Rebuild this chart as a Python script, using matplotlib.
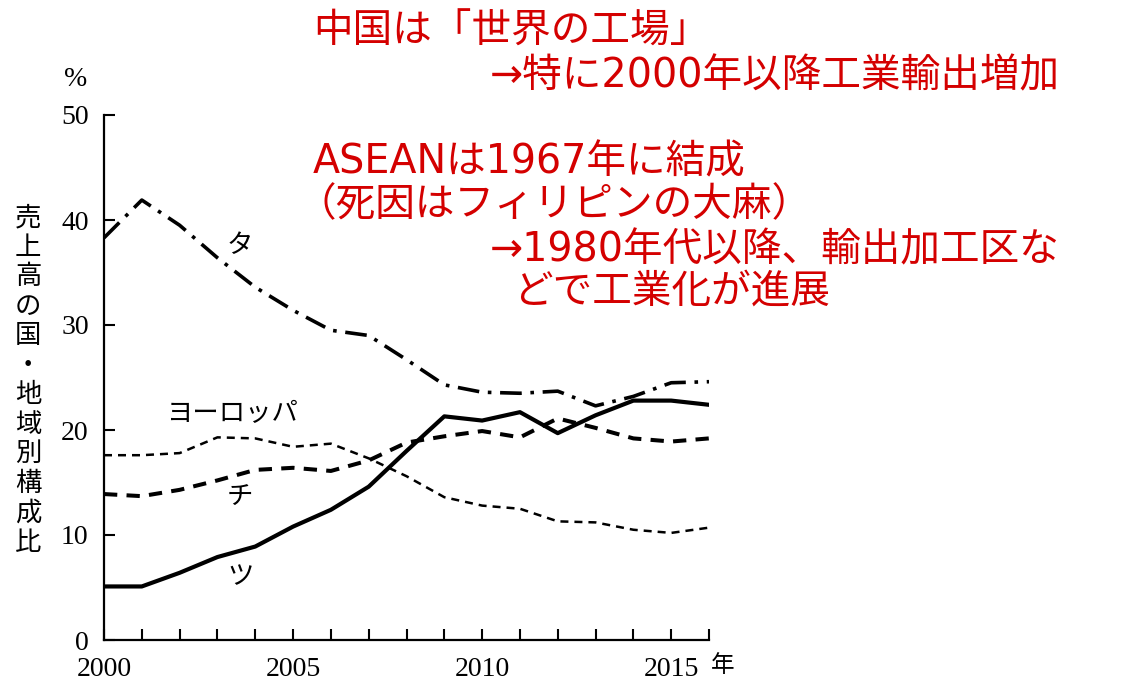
import matplotlib
matplotlib.use("Agg")
import matplotlib.pyplot as plt

years = list(range(2000, 2017))
tai    = [38.3, 41.9, 39.5, 36.4, 33.6, 31.4, 29.5, 29.0, 26.7, 24.3, 23.6, 23.5, 23.7, 22.3, 23.2, 24.5, 24.6]
europe = [17.6, 17.6, 17.8, 19.3, 19.2, 18.4, 18.7, 17.3, 15.6, 13.6, 12.8, 12.5, 11.3, 11.2, 10.5, 10.2, 10.7]
chi    = [13.9, 13.7, 14.3, 15.2, 16.2, 16.4, 16.1, 17.1, 18.8, 19.4, 19.9, 19.3, 21.1, 20.2, 19.2, 18.9, 19.2]
tsu    = [5.1, 5.1, 6.4, 7.9, 8.9, 10.8, 12.4, 14.6, 18.0, 21.3, 20.9, 21.7, 19.7, 21.4, 22.8, 22.8, 22.4]

xtick_labels = ["2000", "2005", "2010", "2015"]
ylabel = "売上高の国・地域別構成比"
notes = [
    (313, 32, "中国は「世界の工場」"),
    (490, 76, "→特に2000年以降工業輸出増加"),
    (313, 162, "ASEANは1967年に結成"),
    (296, 205, "（死因はフィリピンの大麻）"),
    (490, 250, "→1980年代以降、輸出加工区な"),
    (513, 292, "どで工業化が進展"),
]

W, H = 1127, 686
fig = plt.figure(figsize=(W / 100, H / 100), dpi=100)
ax = fig.add_axes([104 / W, 1 - 640 / H, 605 / W, 525 / H])

jp = ["Noto Sans CJK JP", "DejaVu Sans"]
red_font = ["DejaVu Sans", "Noto Sans CJK JP"]
serif = ["Liberation Serif", "DejaVu Serif"]

ax.plot(years, tai, color="black", lw=2.6, dashes=(6, 2.4, 1, 2.4))
ax.plot(years, europe, color="black", lw=1.8, dashes=(3.2, 2.4))
ax.plot(years, chi, color="black", lw=2.9, dashes=(3.3, 2.3))
ax.plot(years, tsu, color="black", lw=3.0)

ax.set_xlim(2000, 2016)
ax.set_ylim(0, 50)
ax.set_xticks(years)
ax.set_xticklabels([str(y) if str(y) in xtick_labels else "" for y in years],
                   fontfamily=serif, fontsize=20)
ax.set_yticks(range(0, 51, 10))
ax.set_yticklabels([str(v) for v in range(0, 51, 10)], fontfamily=serif, fontsize=20)
ax.tick_params(axis="x", direction="in", length=8, width=1.5, pad=12)
ax.tick_params(axis="y", direction="in", length=8, width=1.5, pad=11)
for s in ["top", "right"]:
    ax.spines[s].set_visible(False)
for s in ["left", "bottom"]:
    ax.spines[s].set_linewidth(1.6)

def px(x, y):
    return x / W, 1 - y / H

fig.text(*px(723, 665), "年", fontfamily=jp, fontsize=17, ha="center", va="center")
fig.text(*px(76, 80), "%", fontfamily=serif, fontsize=20, ha="center", va="center")
fig.text(*px(28, 380), "\n".join(ylabel), fontfamily=jp, fontsize=19,
         ha="center", va="center", linespacing=1.12)

ax.text(2003.6, 37.6, "タ", fontfamily=jp, fontsize=19, ha="center", va="center")
ax.text(2003.4, 21.6, "ヨーロッパ", fontfamily=jp, fontsize=19, ha="center", va="center")
ax.text(2003.6, 13.6, "チ", fontfamily=jp, fontsize=19, ha="center", va="center")
ax.text(2003.6, 6.0, "ツ", fontfamily=jp, fontsize=19, ha="center", va="center")

for x, y, t in notes:
    fig.text(*px(x, y), t, fontfamily=red_font, fontsize=28.5, color="#d40000",
             ha="left", va="center")

fig.savefig("out.png", dpi=100)
